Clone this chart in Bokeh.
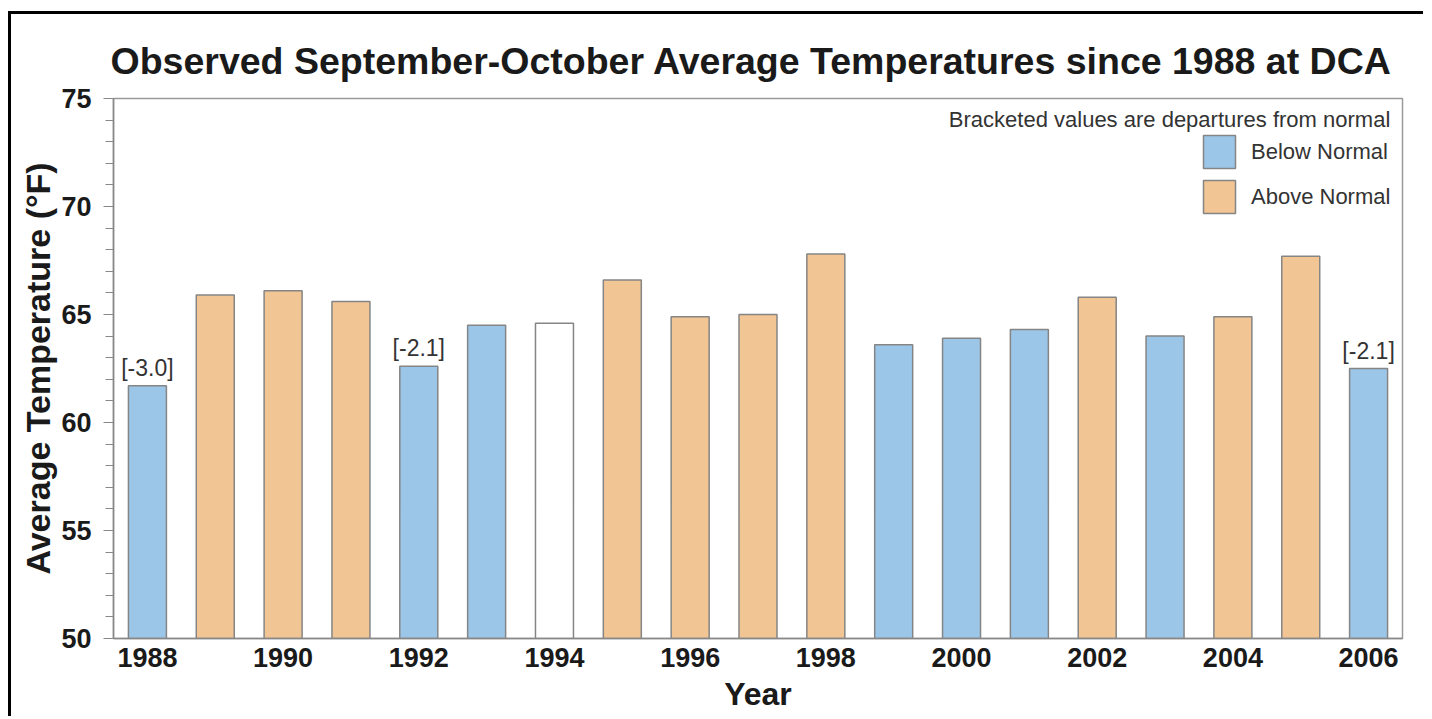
from bokeh.plotting import figure
from bokeh.models import Range1d, FixedTicker, Label, Legend, LegendItem, ColumnDataSource
from bokeh.embed import file_html
from bokeh.resources import INLINE
from bokeh.core.properties import value

# ---- data ----
years = list(range(1988, 2007))
temps = [61.7, 65.9, 66.1, 65.6, 62.6, 64.5, 64.6, 66.6, 64.9, 65.0,
         67.8, 63.6, 63.9, 64.3, 65.8, 64.0, 64.9, 67.7, 62.5]
status = ["below", "above", "above", "above", "below", "below", "normal",
          "above", "above", "above", "above", "below", "below", "below",
          "above", "below", "above", "above", "below"]
departure_years = [1988, 1992, 2006]
departure_labels = ["[-3.0]", "[-2.1]", "[-2.1]"]
x_tick_years = list(range(1988, 2007, 2))
y_major_ticks = [50, 55, 60, 65, 70, 75]
title_text = "Observed September-October Average Temperatures since 1988 at DCA"
note_text = "Bracketed values are departures from normal"

FONT = "Liberation Sans"
BLUE = "#9CC6E8"
ORANGE = "#F2C595"
EDGE = "#858585"

p = figure(width=1418, height=705, output_backend="svg", toolbar_location=None,
           x_range=Range1d(1987.5, 2006.5), y_range=Range1d(50, 75),
           min_border_left=102, min_border_right=27, min_border_top=84,
           min_border_bottom=81)
p.styles = {"box-shadow": "-3px -3px 0px 0px #000",
            "clip-path": "inset(-3px 6px 0px -3px)",
            "margin-left": "11px", "margin-top": "14px"}

p.title.text = title_text
p.title.text_font = FONT
p.title.text_font_size = "37.5px"
p.title.text_font_style = "bold"
p.title.text_color = "#1a1a1a"
p.title.align = "left"
p.title.offset = -3
p.title.standoff = 34

p.outline_line_color = "#9a9a9a"
p.outline_line_width = 1.5
p.xgrid.visible = False
p.ygrid.visible = False

renderers = {}
for key, color in [("below", BLUE), ("above", ORANGE), ("normal", "#ffffff")]:
    xs = [y for y, s in zip(years, status) if s == key]
    ts = [t for t, s in zip(temps, status) if s == key]
    src = ColumnDataSource(dict(x=xs, top=ts))
    renderers[key] = p.vbar(x="x", top="top", bottom=50, width=0.56, source=src,
                            fill_color=color, line_color=EDGE, line_width=1.5)

dep_src = ColumnDataSource(dict(
    x=departure_years,
    y=[temps[years.index(y)] for y in departure_years],
    t=departure_labels))
p.text(x="x", y="y", text="t", source=dep_src, text_align="center",
       text_baseline="alphabetic", y_offset=-18, text_font=value(FONT),
       text_font_size="23px", text_color="#333333")

# axes
xa = p.xaxis[0]
xa.ticker = FixedTicker(ticks=x_tick_years)
xa.axis_label = "Year"
xa.axis_label_text_font = FONT
xa.axis_label_text_font_size = "32px"
xa.axis_label_text_font_style = "bold"
xa.axis_label_text_color = "#1a1a1a"
xa.axis_label_standoff = 6
xa.major_label_text_font = FONT
xa.major_label_text_font_size = "27px"
xa.major_label_text_font_style = "bold"
xa.major_label_text_color = "#1a1a1a"
xa.major_label_standoff = 9
xa.major_tick_out = 0
xa.major_tick_in = 0
xa.minor_tick_out = 0
xa.axis_line_color = "#888888"
xa.axis_line_width = 1.5

ya = p.yaxis[0]
ya.ticker = FixedTicker(ticks=y_major_ticks, minor_ticks=list(range(50, 76)))
ya.axis_label = "Average Temperature (°F)"
ya.axis_label_text_font = FONT
ya.axis_label_text_font_size = "34px"
ya.axis_label_text_font_style = "bold"
ya.axis_label_text_color = "#1a1a1a"
ya.axis_label_standoff = 1
ya.major_label_text_font = FONT
ya.major_label_text_font_size = "27px"
ya.major_label_text_font_style = "bold"
ya.major_label_text_color = "#1a1a1a"
ya.major_label_standoff = 12
ya.major_tick_out = 10
ya.major_tick_in = 0
ya.minor_tick_out = 8
ya.minor_tick_in = 0
ya.major_tick_line_color = "#888888"
ya.minor_tick_line_color = "#888888"
ya.axis_line_color = "#888888"
ya.axis_line_width = 1.5

note = Label(x=2006.32, y=74.02, text=note_text, text_align="right",
             text_baseline="alphabetic", text_font=FONT, text_font_size="22px",
             text_color="#333333")
p.add_layout(note)

legend = Legend(items=[LegendItem(label="Below Normal", renderers=[renderers["below"]]),
                       LegendItem(label="Above Normal", renderers=[renderers["above"]])],
                location=(1086, 421), padding=0, margin=0, spacing=4,
                glyph_width=40, glyph_height=41, label_standoff=12,
                label_text_font=FONT, label_text_font_size="22px",
                label_text_color="#333333", border_line_color=None,
                background_fill_alpha=0)
p.add_layout(legend)

open("out.html", "w").write(file_html(p, INLINE))
